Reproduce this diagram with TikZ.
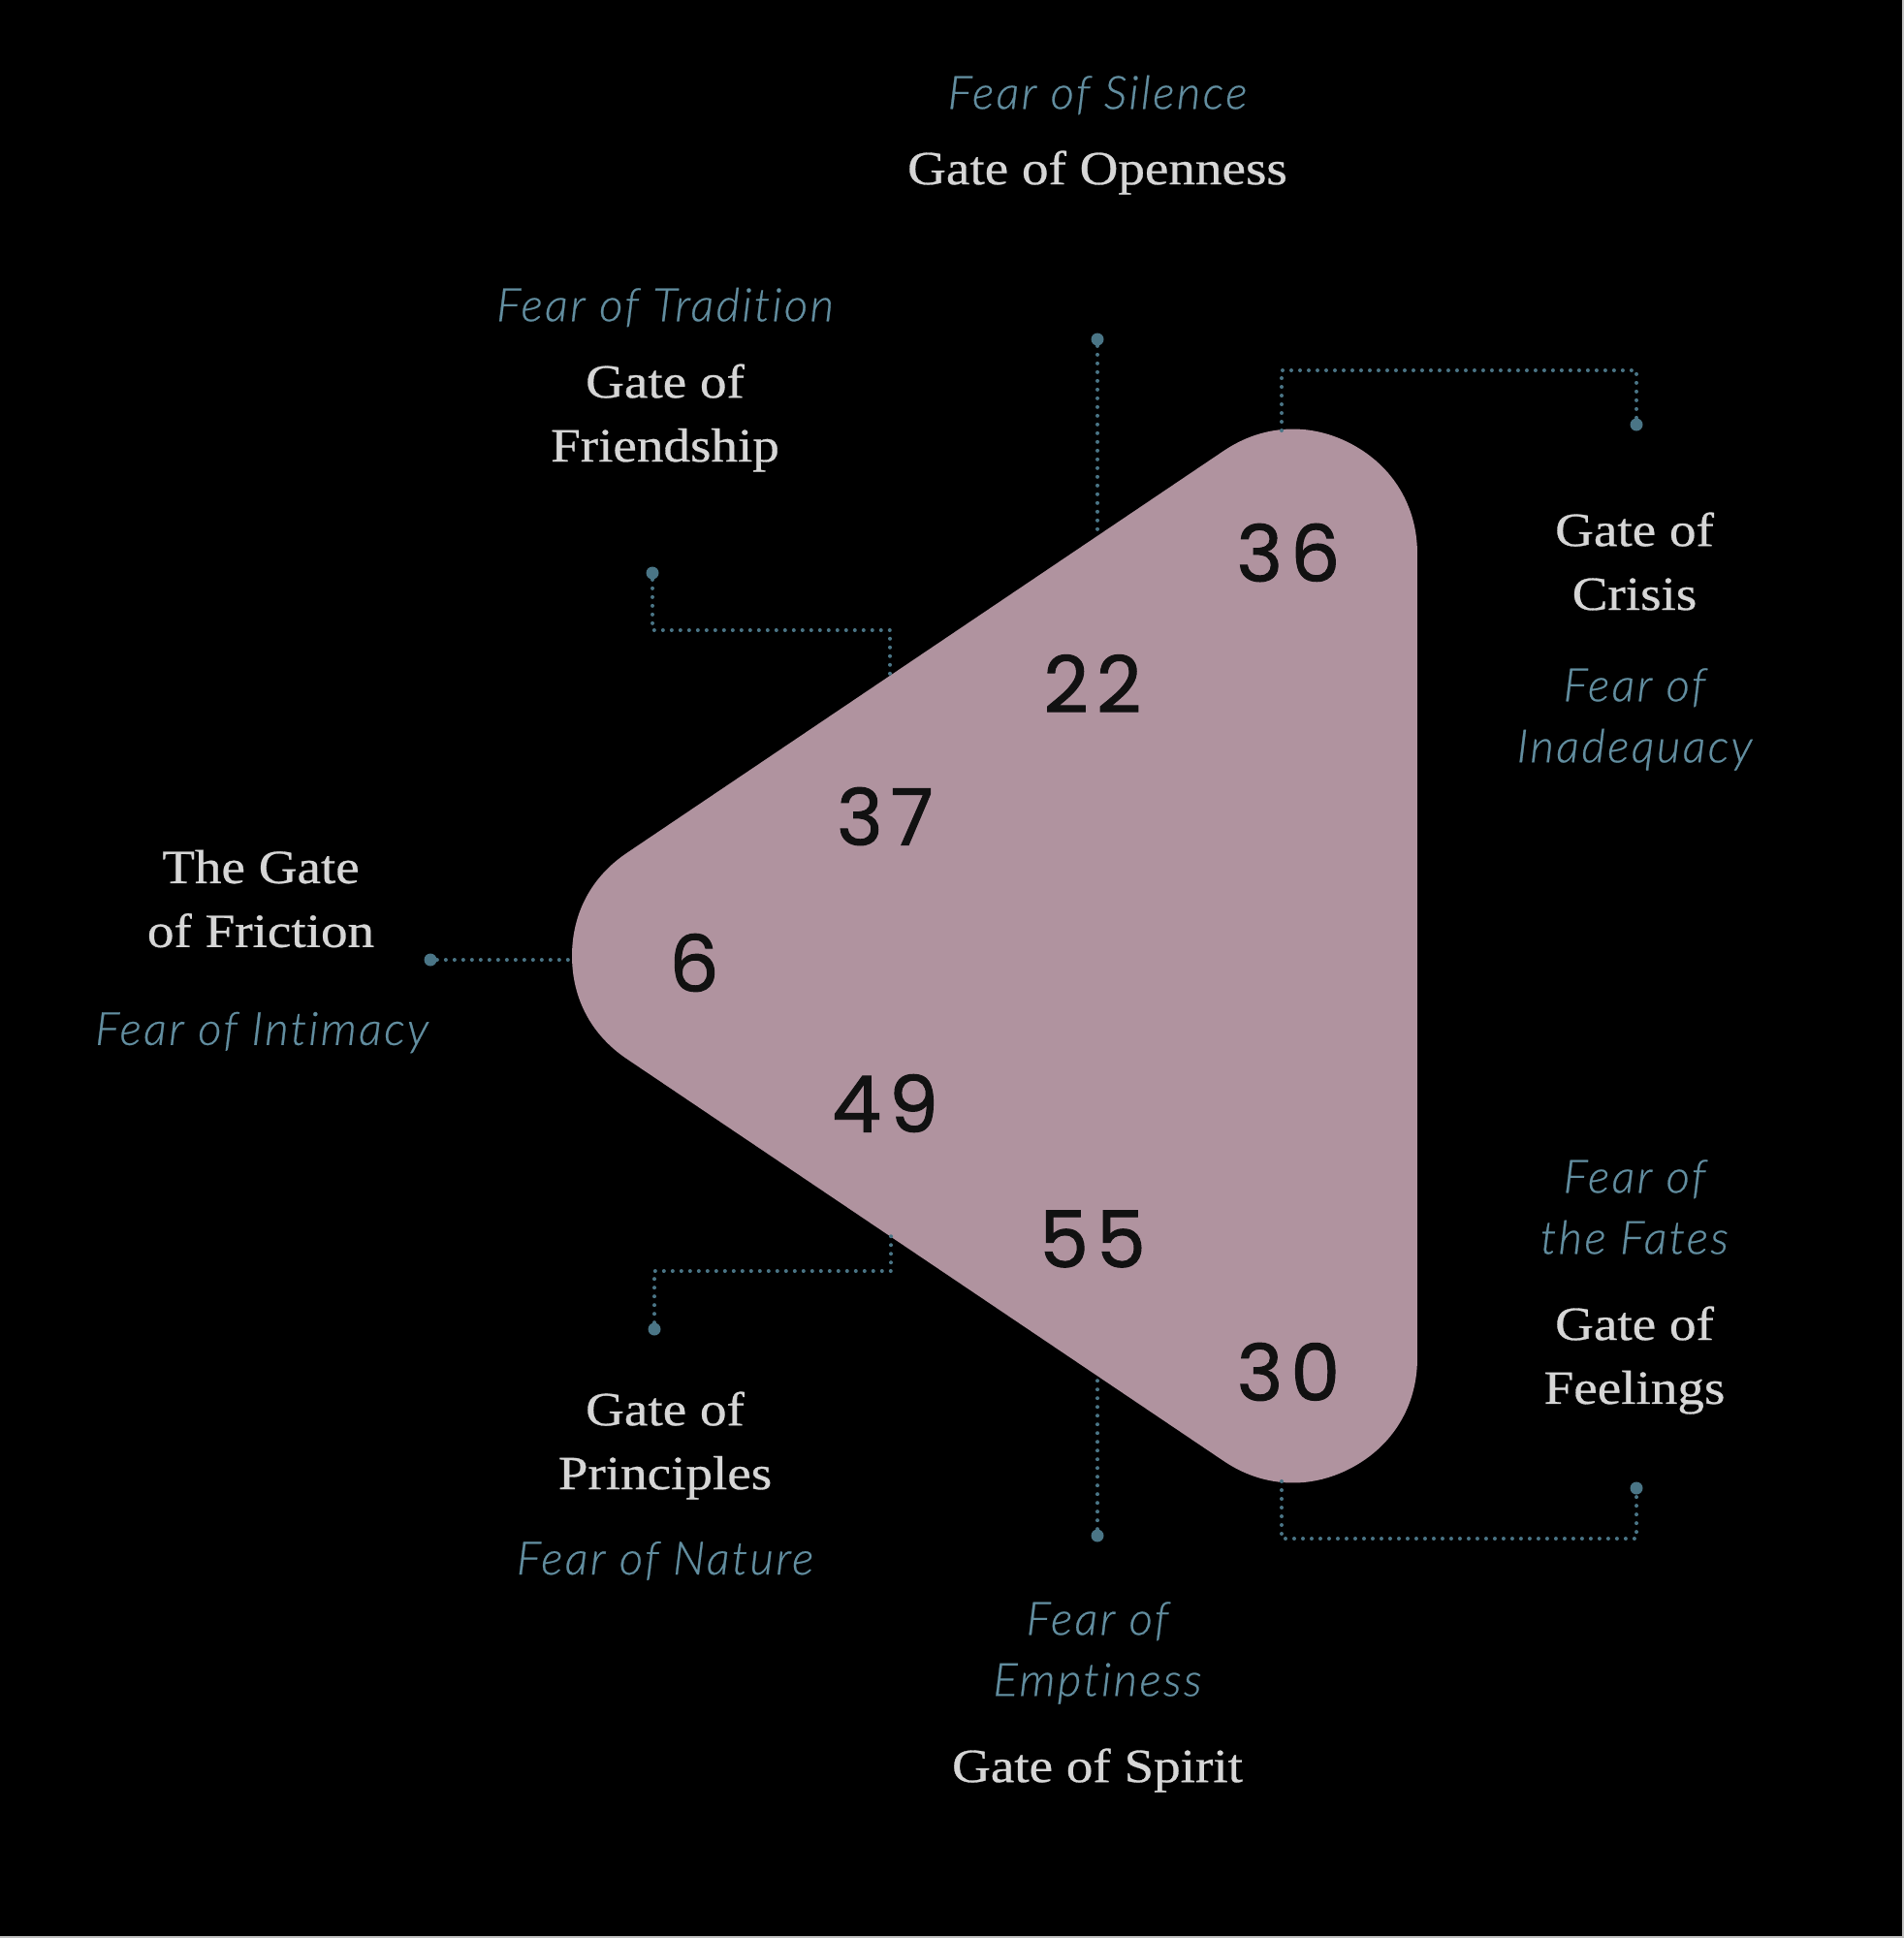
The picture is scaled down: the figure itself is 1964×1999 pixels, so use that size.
\documentclass[tikz,border=0pt]{standalone}
\usepackage{fontspec}
\setmainfont{Liberation Serif}[FakeStretch=1.12, FakeBold=0.6]
\newfontfamily\fearfont{Lato Light Italic}[LetterSpace=5, FakeBold=0.5, Ligatures={NoCommon}]
\newfontfamily\numfont{Poppins}[LetterSpace=10, FakeBold=1.2]
\definecolor{mauve}{RGB}{176,147,159}
\definecolor{labelgray}{RGB}{214,214,214}
\definecolor{fearblue}{RGB}{98,142,160}
\definecolor{linecol}{RGB}{74,117,134}
\definecolor{numcol}{RGB}{17,17,17}
\tikzset{
  gatelabel/.style={text=labelgray, align=center, font=\fontsize{28}{37.5}\selectfont, inner sep=0pt},
  fearlabel/.style={text=fearblue, align=center, font=\fearfont\fontsize{27}{35.9}\selectfont, inner sep=0pt},
  gatenum/.style={text=numcol, font=\numfont\fontsize{46}{50}\selectfont, inner sep=0pt},
  enddot/.style={circle, fill=linecol, inner sep=0pt, minimum size=0.26cm},
  conn/.style={draw=linecol, line width=0.08cm, line cap=round, dash pattern=on 0pt off 0.18cm}
}
\begin{document}
\begin{tikzpicture}[x=0.02cm,y=-0.02cm]
\fill[black] (0,0) rectangle (1964,1999);
\useasboundingbox (0,0) rectangle (1964,1999);
\fill[labelgray!90!black] (1962,0) rectangle (1964,1999);
\fill[labelgray!90!black] (0,1997) rectangle (1964,1999);
% shape
\coordinate (ct) at (1334,571);
\coordinate (cb) at (1334,1401);
\coordinate (cl) at (718,986);
\path[fill=mauve, draw=mauve, line width=5.12cm, line join=round] (ct) -- (cb) -- (cl) -- cycle;
% edge coordinates
\coordinate (eOpen) at (1132,553);
\coordinate (eFriend) at (918,697);
\coordinate (eCrisis) at (1322,444);
\coordinate (eFric) at (590,990);
\coordinate (ePrin) at (919,1275);
\coordinate (eSpirit) at (1132,1419);
\coordinate (eFeel) at (1322,1528);
% dots
\node[enddot] (dOpen) at (1132,350) {};
\node[enddot] (dFriend) at (673,591) {};
\node[enddot] (dCrisis) at (1688,438) {};
\node[enddot] (dFric) at (444,990) {};
\node[enddot] (dPrin) at (675,1371) {};
\node[enddot] (dSpirit) at (1132,1584) {};
\node[enddot] (dFeel) at (1688,1535) {};
% connectors
\draw[conn] (dOpen) -- (eOpen);
\draw[conn] (dFriend) |- (918,650) -- (eFriend);
\draw[conn] (eCrisis) -- (1322,382) -| (dCrisis);
\draw[conn] (dFric) -- (eFric);
\draw[conn] (dPrin) |- (919,1311) -- (ePrin);
\draw[conn] (dSpirit) -- (eSpirit);
\draw[conn] (eFeel) -- (1322,1587) -| (dFeel);
% numbers
\node[gatenum] (n36) at (1329,570) {36};
\node[gatenum] (n22) at (1127,705) {22};
\node[gatenum] (n37) at (913,842) {37};
\node[gatenum] (n6) at (716,993) {6};
\node[gatenum] (n49) at (913,1138) {49};
\node[gatenum] (n55) at (1127,1278) {55};
\node[gatenum] (n30) at (1329,1415) {30};
% labels
\node[fearlabel] (fSilence) at (1132,98) {Fear of Silence};
\node[gatelabel] (gOpen) at (1132,178) {Gate of Openness};
\node[fearlabel] (fTrad) at (686,317) {Fear of Tradition};
\node[gatelabel] (gFriend) at (686,431) {Gate of\\Friendship};
\node[gatelabel] (gCrisis) at (1686,579) {Gate of\\Crisis};
\node[fearlabel] (fInad) at (1686,742) {Fear of\\Inadequacy};
\node[gatelabel] (gFric) at (269,927) {The Gate\\of Friction};
\node[fearlabel] (fInt) at (270,1065) {Fear of Intimacy};
\node[gatelabel] (gPrin) at (686,1491) {Gate of\\Principles};
\node[fearlabel] (fNat) at (686,1610) {Fear of Nature};
\node[fearlabel] (fEmpty) at (1132,1705) {Fear of\\Emptiness};
\node[gatelabel] (gSpirit) at (1132,1826) {Gate of Spirit};
\node[fearlabel] (fFates) at (1686,1245) {Fear of\\the Fates};
\node[gatelabel] (gFeel) at (1686,1403) {Gate of\\Feelings};
\end{tikzpicture}
\end{document}
